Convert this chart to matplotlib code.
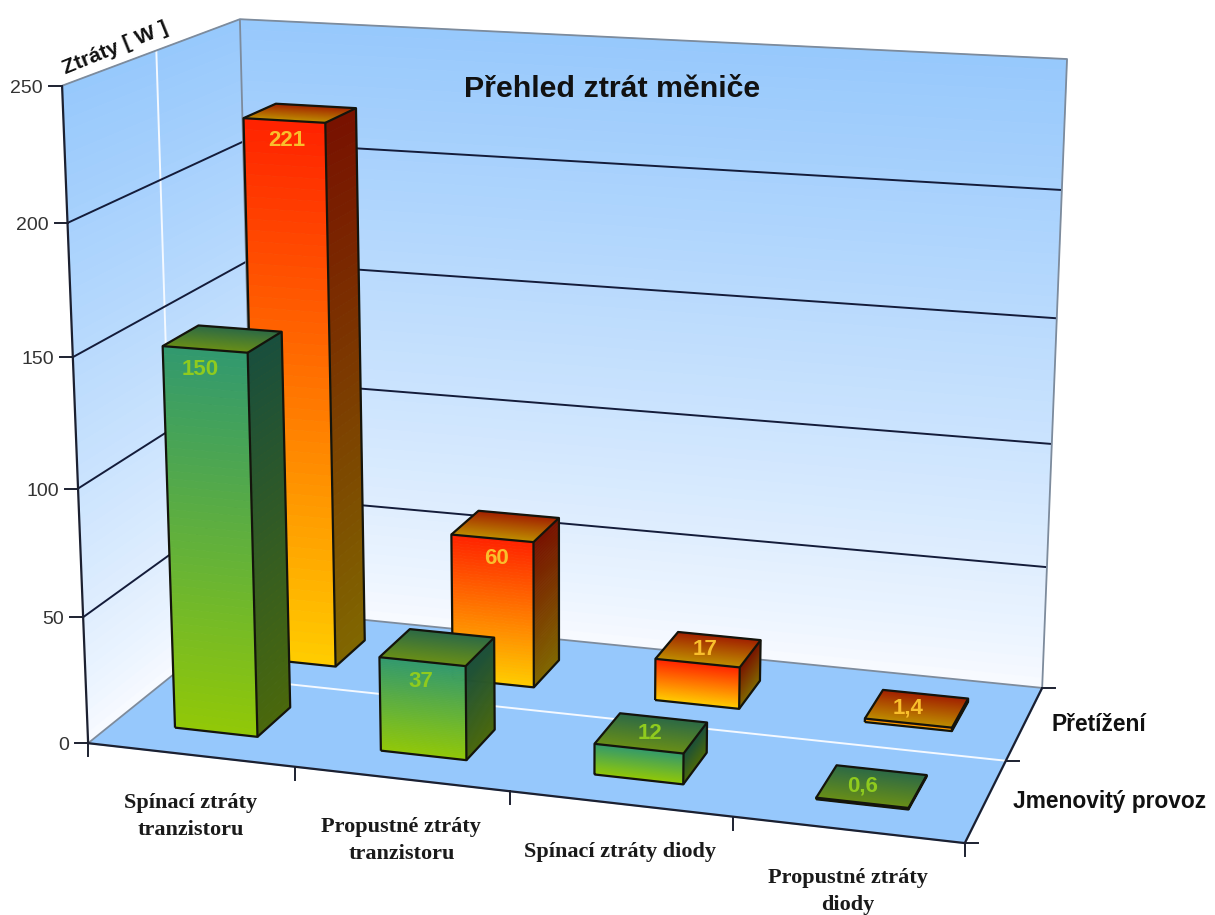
import numpy as np
import matplotlib
matplotlib.use("Agg")
import matplotlib.pyplot as plt
from mpl_toolkits.mplot3d.art3d import Poly3DCollection, Line3DCollection

# ---- chart data ----
categories = ["Spínací ztráty\ntranzistoru", "Propustné ztráty\ntranzistoru",
              "Spínací ztráty diody", "Propustné ztráty\ndiody"]
series_names = ["Jmenovitý provoz", "Přetížení"]
nominal = [150, 37, 12, 0.6]
overload = [221, 60, 17, 1.4]
nominal_labels = ["150", "37", "12", "0,6"]
overload_labels = ["221", "60", "17", "1,4"]
value_ticks = [0, 50, 100, 150, 200, 250]
title = "Přehled ztrát měniče"
value_axis_title = "Ztráty [ W ]"

# ---- canvas and box ----
W, H = 1215, 915
X_MAX, Y_MAX, Z_MAX = len(categories), len(series_names), value_ticks[-1]
BAR_X = (0.295, 0.70)
BAR_Y = (0.30, 0.705)
# sideways shift of each value label, in pixels
LABEL_SHIFT = [[-5, -2, -1, -9], [3, 4, -3, -9]]

# camera calibration: box corners and where they land on the canvas
calib_world = [(0, 0, 0), (X_MAX, 0, 0), (X_MAX, Y_MAX, 0), (0, Y_MAX, 0),
               (0, 0, Z_MAX), (0, Y_MAX, Z_MAX), (X_MAX, Y_MAX, Z_MAX)]
calib_canvas = [(88, 743), (965, 843), (1042, 688), (255, 609),
                (62, 86), (240, 19), (1067, 59)]


def solve_camera(world, canvas):
    rows = []
    for (x, y, z), (u, v) in zip(world, canvas):
        rows.append([x, y, z, 1, 0, 0, 0, 0, -u * x, -u * y, -u * z, -u])
        rows.append([0, 0, 0, 0, x, y, z, 1, -v * x, -v * y, -v * z, -v])
    p = np.linalg.svd(np.array(rows, float))[2][-1].reshape(3, 4)
    return p / p[2, 3]


CAM = solve_camera(calib_world, calib_canvas)


def to_canvas(x, y, z):
    h = CAM @ np.array([x, y, z, 1.0])
    return h[0] / h[2], h[1] / h[2]


plt.rcParams["font.family"] = ["Liberation Sans", "DejaVu Sans"]
fig = plt.figure(figsize=(W / 100, H / 100), dpi=100, facecolor="white")

# the 3D axes is square, so it overhangs the figure top and bottom
pad = (W - H) / 2
ax = fig.add_axes([0, -pad / H, 1, W / H], projection="3d", computed_zorder=False)
ax.set_axis_off()
ax.patch.set_visible(False)


def camera_matrix():
    vl = ax.viewLim
    sx = (vl.x1 - vl.x0) / W
    sy = (vl.y1 - vl.y0) / W
    return np.array([
        sx * CAM[0] + vl.x0 * CAM[2],
        -sy * CAM[1] + (vl.y1 - pad * sy) * CAM[2],
        [0.0, 1.0, 0.0, 0.0],
        CAM[2],
    ])


ax.get_proj = camera_matrix

# 2D overlay in canvas pixels for ticks and text
ov = fig.add_axes([0, 0, 1, 1], zorder=5)
ov.set_xlim(0, W)
ov.set_ylim(H, 0)
ov.axis("off")
ov.patch.set_visible(False)


def lerp(a, b, t):
    return tuple((np.array(a) + (np.array(b) - np.array(a)) * t) / 255)


def add_polys(polys, colors, z):
    ax.add_collection3d(Poly3DCollection(polys, facecolors=colors, edgecolors=colors,
                                         linewidths=0.6, zorder=z), autolim=False)


def add_lines(segs, color, lw, z):
    ax.add_collection3d(Line3DCollection(segs, colors=color, linewidths=lw, zorder=z),
                        autolim=False)


# ---- walls and floor ----
WALL_TOP, WALL_BOTTOM = (150, 200, 252), (247, 250, 255)
levels = np.linspace(0, Z_MAX, 61)
wall_polys, wall_cols = [], []
for a, b in zip(levels[:-1], levels[1:]):
    c = lerp(WALL_BOTTOM, WALL_TOP, (a / Z_MAX) ** 0.85)
    wall_polys.append([(0, 0, a), (0, Y_MAX, a), (0, Y_MAX, b), (0, 0, b)])
    wall_cols.append(c)
    wall_polys.append([(0, Y_MAX, a), (X_MAX, Y_MAX, a), (X_MAX, Y_MAX, b), (0, Y_MAX, b)])
    wall_cols.append(c)
add_polys(wall_polys, wall_cols, 1)
add_polys([[(0, 0, 0), (X_MAX, 0, 0), (X_MAX, Y_MAX, 0), (0, Y_MAX, 0)]],
          [(150 / 255, 200 / 255, 252 / 255)], 2)

# separators between the series
add_lines([[(0, 1, 0), (X_MAX, 1, 0)], [(0, 1, 0), (0, 1, Z_MAX)]], "#f4f9ff", 1.4, 3)

# value gridlines on both walls
grid = []
for v in value_ticks[1:-1]:
    grid.append([(0, 0, v), (0, Y_MAX, v), (X_MAX, Y_MAX, v)])
add_lines(grid, "#141c3a", 1.4, 4)

# light box edges, then the darker outer ones
add_lines([[(0, 0, Z_MAX), (0, Y_MAX, Z_MAX), (X_MAX, Y_MAX, Z_MAX), (X_MAX, Y_MAX, 0)],
           [(0, Y_MAX, Z_MAX), (0, Y_MAX, 0)], [(0, 0, 0), (0, Y_MAX, 0), (X_MAX, Y_MAX, 0)]],
          "#7d8b9c", 1.3, 4)
add_lines([[(0, 0, Z_MAX), (0, 0, 0), (X_MAX, 0, 0), (X_MAX, Y_MAX, 0)]], "#1c2030", 1.6, 4)

# ---- bars ----
PALETTES = [
    dict(front=((145, 200, 8), (48, 152, 112)), side=((74, 104, 12), (24, 78, 62)),
         top=((104, 142, 24), (42, 104, 72)), text="#8fcb1e"),
    dict(front=((255, 203, 0), (255, 32, 0)), side=((128, 102, 0), (120, 16, 0)),
         top=((190, 140, 0), (160, 28, 0)), text="#f9bf2c"),
]
STRIPS = 50


def draw_bar(cat, ser, value, pal, z):
    x0, x1 = cat + BAR_X[0], cat + BAR_X[1]
    y0, y1 = ser + BAR_Y[0], ser + BAR_Y[1]
    polys, cols = [], []
    for i in range(STRIPS):
        t0, t1 = i / STRIPS, (i + 1) / STRIPS
        a, b = value * t0, value * t1
        polys.append([(x0, y0, a), (x1, y0, a), (x1, y0, b), (x0, y0, b)])
        cols.append(lerp(*pal["front"], t0))
        polys.append([(x1, y0, a), (x1, y1, a), (x1, y1, b), (x1, y0, b)])
        cols.append(lerp(*pal["side"], t0))
        ya, yb = y0 + (y1 - y0) * t0, y0 + (y1 - y0) * t1
        polys.append([(x0, ya, value), (x1, ya, value), (x1, yb, value), (x0, yb, value)])
        cols.append(lerp(*pal["top"], t0))
    add_polys(polys, cols, z)
    add_lines([
        [(x0, y0, 0), (x1, y0, 0), (x1, y0, value), (x0, y0, value), (x0, y0, 0)],
        [(x1, y0, 0), (x1, y1, 0), (x1, y1, value), (x0, y1, value), (x0, y0, value)],
        [(x1, y0, value), (x1, y1, value)],
    ], "#14140c", 1.6, z + 0.5)


for ser, values in reversed(list(enumerate([nominal, overload]))):
    for cat, value in enumerate(values):
        draw_bar(cat, ser, value, PALETTES[ser], 10 + (1 - ser) * 10 + cat)

# value labels: below the top edge on tall bars, on the lid of short ones
for ser, (values, labels) in enumerate([(nominal, nominal_labels), (overload, overload_labels)]):
    for cat, (value, label) in enumerate(zip(values, labels)):
        if value >= 20:
            u, v = to_canvas(cat + sum(BAR_X) / 2, ser + BAR_Y[0], value)
            v += 20
        else:
            u, v = to_canvas(cat + sum(BAR_X) / 2, ser + sum(BAR_Y) / 2, value)
        ov.text(u + LABEL_SHIFT[ser][cat], v, label, color=PALETTES[ser]["text"], fontsize=16,
                fontweight="bold", ha="center", va="center")

# ---- ticks and axis text ----
TICK = "#1c2030"
for v in value_ticks:
    u, w = to_canvas(0, 0, v)
    ov.plot([u - 13, u], [w, w], color=TICK, lw=1.4)
    ov.text(u - 19, w + 2.5, str(v), color="#333333", fontsize=14, ha="right", va="center")
for c in range(X_MAX + 1):
    u, w = to_canvas(c, 0, 0)
    ov.plot([u, u], [w, w + 13], color=TICK, lw=1.4)
for s in range(Y_MAX + 1):
    u, w = to_canvas(X_MAX, s, 0)
    ov.plot([u, u + 13], [w, w], color=TICK, lw=1.4)

for c, name in enumerate(categories):
    u, w = to_canvas(c + 0.5, 0, 0)
    ov.text(u, w + 38, name, family="Liberation Serif", fontweight="bold", fontsize=16,
            color="#1a1a1a", ha="center", va="top", linespacing=1.5)
for s, name in enumerate(series_names):
    u, w = to_canvas(X_MAX, s + 0.5, 0)
    ov.text(u + 27, w + 1, name, fontweight="bold", fontsize=16.4, color="#111111",
            ha="left", va="center")

ov.text(612, 89, title, fontweight="bold", fontsize=21.9, color="#111111", ha="center", va="center")
ov.text(115, 48, value_axis_title, fontweight="bold", fontsize=15.4, color="#111111",
        rotation=22, rotation_mode="anchor", ha="center", va="center")

fig.savefig("out.png", dpi=100)
